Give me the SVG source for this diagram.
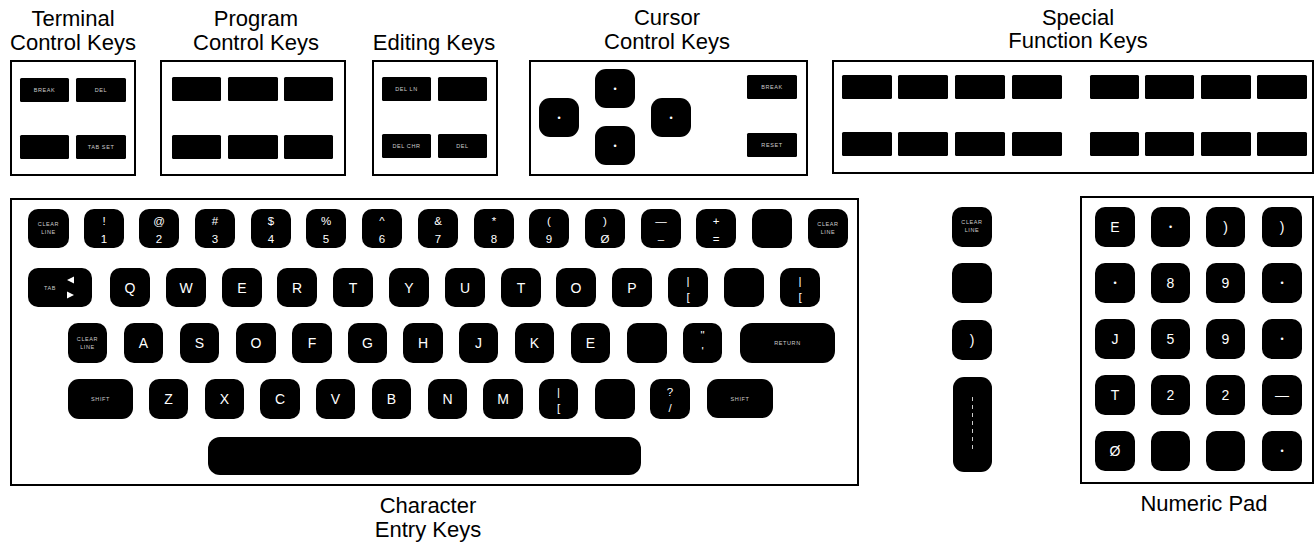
<svg xmlns="http://www.w3.org/2000/svg" width="1315" height="546" viewBox="0 0 1315 546">
<style>
.bg{fill:#fff}
.box{fill:none;stroke:#000;stroke-width:2}
.k{fill:#000}
.ttl{font-family:"Liberation Sans",Arial,sans-serif;font-size:22px;fill:#000;text-anchor:middle}
.kl{font-family:"Liberation Sans",Arial,sans-serif;font-size:14px;fill:#fff;text-anchor:middle}
.ks{font-family:"Liberation Sans",Arial,sans-serif;font-size:11.5px;fill:#fff;text-anchor:middle}
.kt{font-family:"Liberation Sans",Arial,sans-serif;font-size:5.5px;fill:#ccc;text-anchor:middle;letter-spacing:0.6px}
.dot{font-family:"Liberation Sans",Arial,sans-serif;font-size:9px;fill:#fff;text-anchor:middle}
</style>
<rect class="bg" x="0" y="0" width="1315" height="546"/>

<!-- Titles -->
<g id="title-terminal"><text class="ttl" x="73" y="26">Terminal</text><text class="ttl" x="73" y="50">Control Keys</text></g>
<g id="title-program"><text class="ttl" x="256" y="26">Program</text><text class="ttl" x="256" y="50">Control Keys</text></g>
<g id="title-editing"><text class="ttl" x="434" y="50">Editing Keys</text></g>
<g id="title-cursor"><text class="ttl" x="667" y="25">Cursor</text><text class="ttl" x="667" y="49">Control Keys</text></g>
<g id="title-special"><text class="ttl" x="1078" y="25">Special</text><text class="ttl" x="1078" y="48">Function Keys</text></g>
<g id="title-character"><text class="ttl" x="428" y="513">Character</text><text class="ttl" x="428" y="537">Entry Keys</text></g>
<g id="title-numeric"><text class="ttl" x="1204" y="511">Numeric Pad</text></g>

<!-- Terminal Control Keys -->
<g id="terminal-control">
<rect class="box" x="11" y="61" width="124" height="114"/>
<rect class="k" x="20" y="78" width="49" height="24" rx="1.5"/><text class="kt" x="44.5" y="92">BREAK</text>
<rect class="k" x="76" y="78" width="50" height="24" rx="1.5"/><text class="kt" x="101" y="92">DEL</text>
<rect class="k" x="20" y="135" width="49" height="24" rx="1.5"/>
<rect class="k" x="76" y="135" width="50" height="24" rx="1.5"/><text class="kt" x="101" y="149">TAB SET</text>
</g>

<!-- Program Control Keys -->
<g id="program-control">
<rect class="box" x="161" y="61" width="184" height="114"/>
<rect class="k" x="172" y="77" width="49" height="24" rx="1.5"/>
<rect class="k" x="228" y="77" width="50" height="24" rx="1.5"/>
<rect class="k" x="284" y="77" width="49" height="24" rx="1.5"/>
<rect class="k" x="172" y="135" width="49" height="24" rx="1.5"/>
<rect class="k" x="228" y="135" width="50" height="24" rx="1.5"/>
<rect class="k" x="284" y="135" width="49" height="24" rx="1.5"/>
</g>

<!-- Editing Keys -->
<g id="editing">
<rect class="box" x="373" y="61" width="124" height="114"/>
<rect class="k" x="382" y="77" width="49" height="24" rx="1.5"/><text class="kt" x="406.5" y="91">DEL LN</text>
<rect class="k" x="438" y="77" width="49" height="24" rx="1.5"/>
<rect class="k" x="382" y="134" width="49" height="24" rx="1.5"/><text class="kt" x="406.5" y="148">DEL CHR</text>
<rect class="k" x="438" y="134" width="49" height="24" rx="1.5"/><text class="kt" x="462.5" y="148">DEL</text>
</g>

<!-- Cursor Control Keys -->
<g id="cursor-control">
<rect class="box" x="530" y="61" width="277" height="114"/>
<rect class="k" x="595" y="69" width="40" height="39" rx="11"/><text class="dot" x="615" y="92">•</text>
<rect class="k" x="539" y="98" width="40" height="39" rx="11"/><text class="dot" x="559" y="121">•</text>
<rect class="k" x="651" y="98" width="40" height="39" rx="11"/><text class="dot" x="671" y="121">•</text>
<rect class="k" x="595" y="126" width="40" height="39" rx="11"/><text class="dot" x="615" y="149">•</text>
<rect class="k" x="747" y="75" width="50" height="24" rx="1.5"/><text class="kt" x="772" y="89">BREAK</text>
<rect class="k" x="747" y="133" width="50" height="24" rx="1.5"/><text class="kt" x="772" y="147">RESET</text>
</g>

<!-- Special Function Keys -->
<g id="special-function">
<rect class="box" x="833" y="61" width="480" height="112"/>
<rect class="k" x="842" y="75" width="50" height="24" rx="1.5"/>
<rect class="k" x="898" y="75" width="50" height="24" rx="1.5"/>
<rect class="k" x="955" y="75" width="50" height="24" rx="1.5"/>
<rect class="k" x="1012" y="75" width="50" height="24" rx="1.5"/>
<rect class="k" x="1090" y="75" width="49" height="24" rx="1.5"/>
<rect class="k" x="1145" y="75" width="49" height="24" rx="1.5"/>
<rect class="k" x="1201" y="75" width="50" height="24" rx="1.5"/>
<rect class="k" x="1257" y="75" width="50" height="24" rx="1.5"/>
<rect class="k" x="842" y="132" width="50" height="24" rx="1.5"/>
<rect class="k" x="898" y="132" width="50" height="24" rx="1.5"/>
<rect class="k" x="955" y="132" width="50" height="24" rx="1.5"/>
<rect class="k" x="1012" y="132" width="50" height="24" rx="1.5"/>
<rect class="k" x="1090" y="132" width="49" height="24" rx="1.5"/>
<rect class="k" x="1145" y="132" width="49" height="24" rx="1.5"/>
<rect class="k" x="1201" y="132" width="50" height="24" rx="1.5"/>
<rect class="k" x="1257" y="132" width="50" height="24" rx="1.5"/>
</g>

<!-- Character Entry Keys -->
<g id="character-entry">
<rect class="box" x="11" y="199" width="847" height="286"/>
<!-- row 1 -->
<g id="row1">
<rect class="k" x="28" y="209" width="41" height="39" rx="10"/><text class="kt" x="48.5" y="226">CLEAR</text><text class="kt" x="48.5" y="234">LINE</text>
<rect class="k" x="84" y="209" width="40" height="39" rx="10"/><text class="ks" x="104" y="225">!</text><text class="ks" x="104" y="243">1</text>
<rect class="k" x="139" y="209" width="40" height="39" rx="10"/><text class="ks" x="159" y="225">@</text><text class="ks" x="159" y="243">2</text>
<rect class="k" x="195" y="209" width="40" height="39" rx="10"/><text class="ks" x="215" y="225">#</text><text class="ks" x="215" y="243">3</text>
<rect class="k" x="251" y="209" width="40" height="39" rx="10"/><text class="ks" x="271" y="225">$</text><text class="ks" x="271" y="243">4</text>
<rect class="k" x="306" y="209" width="40" height="39" rx="10"/><text class="ks" x="326" y="225">%</text><text class="ks" x="326" y="243">5</text>
<rect class="k" x="362" y="209" width="40" height="39" rx="10"/><text class="ks" x="382" y="225">^</text><text class="ks" x="382" y="243">6</text>
<rect class="k" x="418" y="209" width="40" height="39" rx="10"/><text class="ks" x="438" y="225">&amp;</text><text class="ks" x="438" y="243">7</text>
<rect class="k" x="474" y="209" width="40" height="39" rx="10"/><text class="ks" x="494" y="225">*</text><text class="ks" x="494" y="243">8</text>
<rect class="k" x="529" y="209" width="40" height="39" rx="10"/><text class="ks" x="549" y="225">(</text><text class="ks" x="549" y="243">9</text>
<rect class="k" x="585" y="209" width="40" height="39" rx="10"/><text class="ks" x="605" y="225">)</text><text class="ks" x="605" y="243">Ø</text>
<rect class="k" x="641" y="209" width="40" height="39" rx="10"/><text class="ks" x="661" y="225">—</text><text class="ks" x="661" y="243">–</text>
<rect class="k" x="696" y="209" width="40" height="39" rx="10"/><text class="ks" x="716" y="225">+</text><text class="ks" x="716" y="243">=</text>
<rect class="k" x="752" y="209" width="40" height="39" rx="10"/>
<rect class="k" x="808" y="209" width="40" height="39" rx="10"/><text class="kt" x="828" y="226">CLEAR</text><text class="kt" x="828" y="234">LINE</text>
</g>
<!-- row 2 -->
<g id="row2">
<rect class="k" x="28" y="268" width="64" height="39" rx="10"/><text class="kt" x="50" y="290">TAB</text>
<polygon points="74,276.5 74,283.5 67,280" fill="#fff"/><polygon points="67,291.5 67,298.5 74,295" fill="#fff"/>
<rect class="k" x="110" y="268" width="40" height="39" rx="10"/><text class="kl" x="130" y="293">Q</text>
<rect class="k" x="166" y="268" width="40" height="39" rx="10"/><text class="kl" x="186" y="293">W</text>
<rect class="k" x="222" y="268" width="40" height="39" rx="10"/><text class="kl" x="242" y="293">E</text>
<rect class="k" x="277" y="268" width="40" height="39" rx="10"/><text class="kl" x="297" y="293">R</text>
<rect class="k" x="333" y="268" width="40" height="39" rx="10"/><text class="kl" x="353" y="293">T</text>
<rect class="k" x="389" y="268" width="40" height="39" rx="10"/><text class="kl" x="409" y="293">Y</text>
<rect class="k" x="445" y="268" width="40" height="39" rx="10"/><text class="kl" x="465" y="293">U</text>
<rect class="k" x="501" y="268" width="40" height="39" rx="10"/><text class="kl" x="521" y="293">T</text>
<rect class="k" x="556" y="268" width="40" height="39" rx="10"/><text class="kl" x="576" y="293">O</text>
<rect class="k" x="612" y="268" width="40" height="39" rx="10"/><text class="kl" x="632" y="293">P</text>
<rect class="k" x="668" y="268" width="40" height="39" rx="10"/><text class="ks" x="688" y="285">|</text><text class="ks" x="688" y="301">[</text>
<rect class="k" x="724" y="268" width="40" height="39" rx="10"/>
<rect class="k" x="780" y="268" width="40" height="39" rx="10"/><text class="ks" x="800" y="285">|</text><text class="ks" x="800" y="301">[</text>
</g>
<!-- row 3 -->
<g id="row3">
<rect class="k" x="68" y="323" width="39" height="40" rx="10"/><text class="kt" x="87.5" y="341">CLEAR</text><text class="kt" x="87.5" y="349">LINE</text>
<rect class="k" x="124" y="323" width="39" height="40" rx="10"/><text class="kl" x="143.5" y="348">A</text>
<rect class="k" x="180" y="323" width="39" height="40" rx="10"/><text class="kl" x="199.5" y="348">S</text>
<rect class="k" x="236" y="323" width="40" height="40" rx="10"/><text class="kl" x="256" y="348">O</text>
<rect class="k" x="292" y="323" width="40" height="40" rx="10"/><text class="kl" x="312" y="348">F</text>
<rect class="k" x="348" y="323" width="39" height="40" rx="10"/><text class="kl" x="367.5" y="348">G</text>
<rect class="k" x="403" y="323" width="40" height="40" rx="10"/><text class="kl" x="423" y="348">H</text>
<rect class="k" x="459" y="323" width="39" height="40" rx="10"/><text class="kl" x="478.5" y="348">J</text>
<rect class="k" x="515" y="323" width="39" height="40" rx="10"/><text class="kl" x="534.5" y="348">K</text>
<rect class="k" x="571" y="323" width="39" height="40" rx="10"/><text class="kl" x="590.5" y="348">E</text>
<rect class="k" x="627" y="323" width="40" height="40" rx="10"/>
<rect class="k" x="683" y="323" width="39" height="40" rx="10"/><text class="ks" x="702.5" y="339">"</text><text class="ks" x="702.5" y="355">'</text>
<rect class="k" x="740" y="323" width="95" height="40" rx="12"/><text class="kt" x="787.5" y="345">RETURN</text>
</g>
<!-- row 4 -->
<g id="row4">
<rect class="k" x="68" y="379" width="65" height="40" rx="11"/><text class="kt" x="100.5" y="401">SHIFT</text>
<rect class="k" x="149" y="379" width="39" height="40" rx="10"/><text class="kl" x="168.5" y="404">Z</text>
<rect class="k" x="205" y="379" width="39" height="40" rx="10"/><text class="kl" x="224.5" y="404">X</text>
<rect class="k" x="260" y="379" width="40" height="40" rx="10"/><text class="kl" x="280" y="404">C</text>
<rect class="k" x="316" y="379" width="39" height="40" rx="10"/><text class="kl" x="335.5" y="404">V</text>
<rect class="k" x="372" y="379" width="39" height="40" rx="10"/><text class="kl" x="391.5" y="404">B</text>
<rect class="k" x="428" y="379" width="39" height="40" rx="10"/><text class="kl" x="447.5" y="404">N</text>
<rect class="k" x="483" y="379" width="40" height="40" rx="10"/><text class="kl" x="503" y="404">M</text>
<rect class="k" x="539" y="379" width="39" height="40" rx="10"/><text class="ks" x="558.5" y="396">|</text><text class="ks" x="558.5" y="412">[</text>
<rect class="k" x="595" y="379" width="40" height="40" rx="10"/>
<rect class="k" x="650" y="379" width="40" height="40" rx="10"/><text class="ks" x="670" y="396">?</text><text class="ks" x="670" y="412">/</text>
<rect class="k" x="707" y="379" width="66" height="39" rx="11"/><text class="kt" x="740" y="401">SHIFT</text>
</g>
<rect id="spacebar" class="k" x="208" y="437" width="433" height="38" rx="12"/>
</g>

<!-- Side column keys -->
<g id="side-keys">
<rect class="k" x="952" y="207" width="40" height="40" rx="10"/><text class="kt" x="972" y="224">CLEAR</text><text class="kt" x="972" y="232">LINE</text>
<rect class="k" x="952" y="263" width="40" height="40" rx="10"/>
<rect class="k" x="952" y="320" width="40" height="40" rx="10"/><text class="kl" x="972" y="345">)</text>
<rect class="k" x="953" y="377" width="39" height="95" rx="11"/>
<line x1="972.5" y1="397" x2="972.5" y2="451" stroke="#fff" stroke-width="0.8" stroke-dasharray="4,4"/>
</g>

<!-- Numeric Pad -->
<g id="numeric-pad">
<rect class="box" x="1081" y="197" width="232" height="286"/>
<rect class="k" x="1095" y="207" width="40" height="40" rx="10"/><text class="kl" x="1115" y="232">E</text>
<rect class="k" x="1151" y="207" width="39" height="40" rx="10"/><text class="dot" x="1170.5" y="230">•</text>
<rect class="k" x="1206" y="207" width="39" height="40" rx="10"/><text class="kl" x="1225.5" y="232">)</text>
<rect class="k" x="1262" y="207" width="40" height="40" rx="10"/><text class="kl" x="1282" y="232">)</text>
<rect class="k" x="1095" y="263" width="40" height="40" rx="10"/><text class="dot" x="1115" y="286">•</text>
<rect class="k" x="1151" y="263" width="39" height="40" rx="10"/><text class="kl" x="1170.5" y="288">8</text>
<rect class="k" x="1206" y="263" width="39" height="40" rx="10"/><text class="kl" x="1225.5" y="288">9</text>
<rect class="k" x="1262" y="263" width="40" height="40" rx="10"/><text class="dot" x="1282" y="286">•</text>
<rect class="k" x="1095" y="319" width="40" height="40" rx="10"/><text class="kl" x="1115" y="344">J</text>
<rect class="k" x="1151" y="319" width="39" height="40" rx="10"/><text class="kl" x="1170.5" y="344">5</text>
<rect class="k" x="1206" y="319" width="39" height="40" rx="10"/><text class="kl" x="1225.5" y="344">9</text>
<rect class="k" x="1262" y="319" width="40" height="40" rx="10"/><text class="dot" x="1282" y="342">•</text>
<rect class="k" x="1095" y="375" width="40" height="40" rx="10"/><text class="kl" x="1115" y="400">T</text>
<rect class="k" x="1151" y="375" width="39" height="40" rx="10"/><text class="kl" x="1170.5" y="400">2</text>
<rect class="k" x="1206" y="375" width="39" height="40" rx="10"/><text class="kl" x="1225.5" y="400">2</text>
<rect class="k" x="1262" y="375" width="40" height="40" rx="10"/><text class="kl" x="1282" y="400">—</text>
<rect class="k" x="1095" y="431" width="40" height="40" rx="10"/><text class="kl" x="1115" y="456">Ø</text>
<rect class="k" x="1151" y="431" width="39" height="40" rx="10"/>
<rect class="k" x="1206" y="431" width="39" height="40" rx="10"/>
<rect class="k" x="1262" y="431" width="40" height="40" rx="10"/><text class="dot" x="1282" y="454">•</text>
</g>
</svg>
